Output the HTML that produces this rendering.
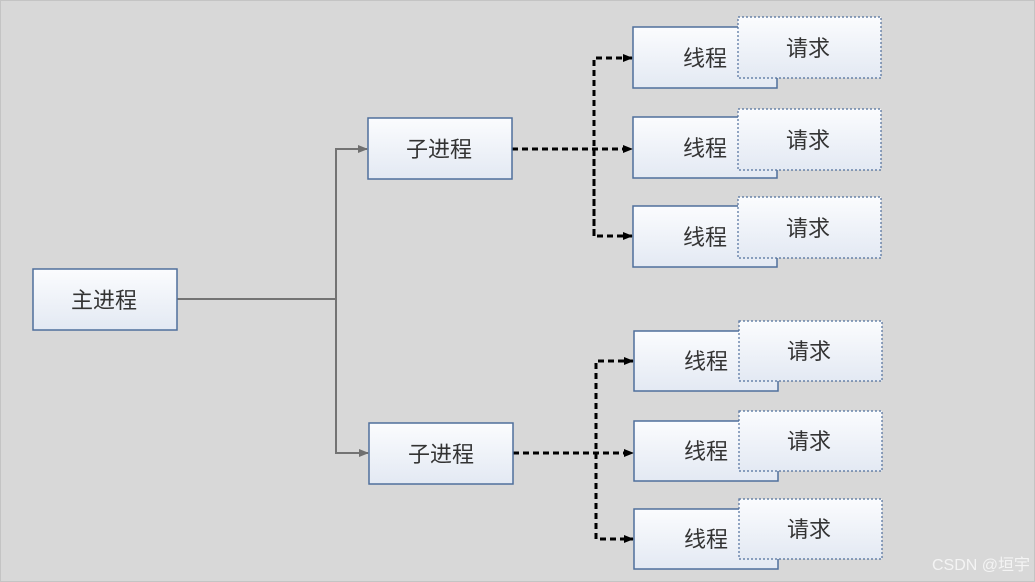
<!DOCTYPE html>
<html><head><meta charset="utf-8"><style>
html,body{margin:0;padding:0;background:#d8d8d8;}
svg{display:block}
text{font-family:"Liberation Sans","Noto Sans CJK SC",sans-serif;font-size:22px;fill:#333;}
</style></head><body>
<svg width="1035" height="582" viewBox="0 0 1035 582" xmlns="http://www.w3.org/2000/svg">
<defs>
<linearGradient id="g" x1="0" y1="0" x2="0" y2="1"><stop offset="0" stop-color="#fbfcfe"/><stop offset="1" stop-color="#e3e9f3"/></linearGradient>
<marker id="ag" markerWidth="10" markerHeight="10" refX="9" refY="5" orient="auto" markerUnits="userSpaceOnUse"><path d="M0,1 L10,5 L0,9 z" fill="#6f6f6f"/></marker>
<marker id="ab" markerWidth="10" markerHeight="10" refX="9" refY="5" orient="auto" markerUnits="userSpaceOnUse"><path d="M0,1 L10,5 L0,9 z" fill="#000"/></marker>
</defs>
<rect x="0.5" y="0.5" width="1034" height="581" fill="#d8d8d8" stroke="#c4c4c4"/>
<g fill="none" stroke="#737373" stroke-width="2">
<path d="M177 299 H336"/>
<path d="M336 453 V149 H367" marker-end="url(#ag)"/>
<path d="M336 299 V453 H368" marker-end="url(#ag)"/>
</g>
<g fill="none" stroke="#000" stroke-width="3" stroke-dasharray="6,4">
<path d="M512 149 H632" marker-end="url(#ab)"/>
<path d="M594 236 V58 H632" marker-end="url(#ab)"/>
<path d="M594 149 V236 H632" marker-end="url(#ab)"/>
<path d="M513 453 H633" marker-end="url(#ab)"/>
<path d="M596 539 V361 H633" marker-end="url(#ab)"/>
<path d="M596 453 V539 H633" marker-end="url(#ab)"/>
</g>
<g stroke="#4f6f9c" stroke-width="1.5" fill="url(#g)">
<rect x="33" y="269" width="144" height="61"/>
<rect x="368" y="118" width="144" height="61"/>
<rect x="369" y="423" width="144" height="61"/>
<rect x="633" y="27" width="144" height="61"/>
<rect x="633" y="117" width="144" height="61"/>
<rect x="633" y="206" width="144" height="61"/>
<rect x="634" y="331" width="144" height="60"/>
<rect x="634" y="421" width="144" height="60"/>
<rect x="634" y="509" width="144" height="60"/>
</g>
<g stroke="#4f6f9c" stroke-width="1.2" stroke-dasharray="2,2" fill="url(#g)">
<rect x="738" y="17" width="143" height="61"/>
<rect x="738" y="109" width="143" height="61"/>
<rect x="738" y="197" width="143" height="61"/>
<rect x="739" y="321" width="143" height="60"/>
<rect x="739" y="411" width="143" height="60"/>
<rect x="739" y="499" width="143" height="60"/>
</g>
<g text-anchor="middle">
<text x="104" y="308">主进程</text>
<text x="439" y="157">子进程</text>
<text x="441" y="462">子进程</text>
<text x="705" y="66">线程</text>
<text x="705" y="156">线程</text>
<text x="705" y="245">线程</text>
<text x="706" y="369">线程</text>
<text x="706" y="459">线程</text>
<text x="706" y="547">线程</text>
<text x="808" y="56">请求</text>
<text x="808" y="148">请求</text>
<text x="808" y="236">请求</text>
<text x="809" y="359">请求</text>
<text x="809" y="449">请求</text>
<text x="809" y="537">请求</text>
</g>
<text x="1030" y="570" text-anchor="end" style="font-size:16px;fill:#f4f4f4">CSDN @垣宇</text>
</svg>
</body></html>
